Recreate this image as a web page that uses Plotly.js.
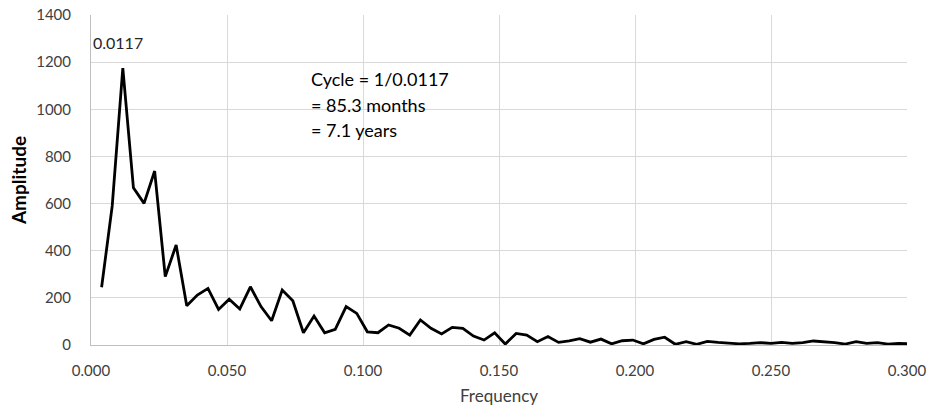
<!DOCTYPE html>
<html>
<head>
<meta charset="utf-8">
<script src="https://cdn.plot.ly/plotly-3.0.1.min.js"></script>
<style>html,body{margin:0;padding:0;background:#fff;}#chart{width:935px;height:409px;}</style>
</head>
<body>
<div id="chart"></div>
<script>
const frequency = [0.0039,0.0078,0.0117,0.0156,0.0195,0.0234,0.0273,0.0313,0.0352,0.0391,
0.0430,0.0469,0.0508,0.0547,0.0586,0.0625,0.0664,0.0703,0.0742,0.0781,
0.0820,0.0859,0.0898,0.0938,0.0977,0.1016,0.1055,0.1094,0.1133,0.1172,
0.1211,0.1250,0.1289,0.1328,0.1367,0.1406,0.1445,0.1484,0.1523,0.1563,
0.1602,0.1641,0.1680,0.1719,0.1758,0.1797,0.1836,0.1875,0.1914,0.1953,
0.1992,0.2031,0.2070,0.2109,0.2148,0.2188,0.2227,0.2266,0.2305,0.2344,
0.2383,0.2422,0.2461,0.2500,0.2539,0.2578,0.2617,0.2656,0.2695,0.2734,
0.2773,0.2813,0.2852,0.2891,0.2930,0.2969,0.3008];
const amplitude = [245,590,1175,667,601,738,290,424,167,212,
240,151,194,153,247,163,103,233,188,52,
123,52,66,163,134,56,52,85,71,42,
106,71,47,75,71,38,21,52,4,49,
42,14,36,11,18,27,12,25,5,18,
21,5,24,33,3,14,3,15,11,8,
5,7,10,7,11,7,10,17,14,10,
4,14,7,10,4,7,5];
const xTickVals = [0,0.05,0.1,0.15,0.2,0.25,0.3];
const xTickText = ['0.000','0.050','0.100','0.150','0.200','0.250','0.300'];
const peakLabel = '0.0117';
const noteLines = ['Cycle = 1/0.0117','= 85.3 months','= 7.1 years'];

const fontFam = 'Lato, "Open Sans", sans-serif';
const trace = {
  x: frequency, y: amplitude, type: 'scatter', mode: 'lines',
  line: {color: '#000000', width: 2.8}, hoverinfo: 'skip'
};
const annotations = [
  {x: 0.0099, y: 1285, xref: 'x', yref: 'y', text: peakLabel, showarrow: false,
   xanchor: 'center', yanchor: 'middle', font: {family: fontFam, size: 16, color: '#262626'}}
];
const noteY = [1128, 1018, 912];
noteLines.forEach((t, i) => annotations.push({
  x: 0.0801, y: noteY[i], xref: 'x', yref: 'y', text: t, showarrow: false,
  xanchor: 'left', yanchor: 'middle', font: {family: fontFam, size: 18, color: '#000000'}
}));
const layout = {
  width: 935, height: 409,
  margin: {l: 91, r: 28, t: 15, b: 64},
  paper_bgcolor: '#ffffff', plot_bgcolor: '#ffffff',
  showlegend: false,
  xaxis: {
    range: [0, 0.3], tickvals: xTickVals, ticktext: xTickText,
    showgrid: true, gridcolor: '#d9d9d9', gridwidth: 1,
    showline: true, linecolor: '#bfbfbf', linewidth: 1,
    zeroline: false, ticks: '', ticklen: 0, ticklabelstandoff: 12,
    tickfont: {family: fontFam, size: 15, color: '#404040'},
    title: {text: 'Frequency', font: {family: fontFam, size: 17, color: '#404040'}, standoff: 12}
  },
  yaxis: {
    range: [0, 1400], dtick: 200, tick0: 0,
    showgrid: true, gridcolor: '#d9d9d9', gridwidth: 1,
    showline: true, linecolor: '#bfbfbf', linewidth: 1,
    zeroline: false, ticks: '', ticklen: 0, ticklabelstandoff: 16,
    tickfont: {family: fontFam, size: 15, color: '#404040'},
    title: {text: '<b>Amplitude</b>', font: {family: fontFam, size: 19, color: '#000000'}, standoff: 4}
  },
  annotations: annotations
};
Plotly.newPlot('chart', [trace], layout, {staticPlot: true, displayModeBar: false});
</script>
</body>
</html>
